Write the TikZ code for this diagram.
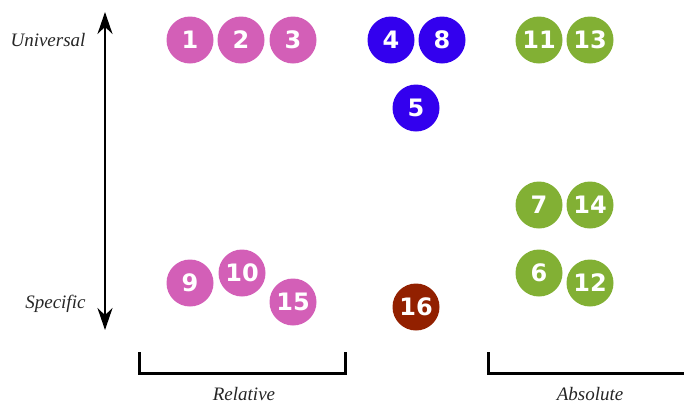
\documentclass[tikz,border=0pt]{standalone}
\usepackage{fontspec}
\newfontfamily\numfont{DejaVu Sans}
\newfontfamily\labfont{Liberation Serif}
\usetikzlibrary{arrows.meta}
\definecolor{cpink}{RGB}{211,95,183}
\definecolor{cblue}{RGB}{51,0,238}
\definecolor{cgreen}{RGB}{130,176,52}
\definecolor{cred}{RGB}{146,32,0}
\tikzset{
  num/.style={circle, minimum size=47pt, inner sep=0pt, text=white, font=\numfont\bfseries\fontsize{24}{26}\selectfont},
  pk/.style={num, fill=cpink},
  bl/.style={num, fill=cblue},
  gr/.style={num, fill=cgreen},
  rd/.style={num, fill=cred},
  lab/.style={font=\labfont\itshape\fontsize{19}{21}\selectfont, text=black!85},
  brk/.style={line width=3pt, line cap=butt},
  axis/.style={line width=2.6pt, {Stealth[length=22pt,width=15pt]}-{Stealth[length=22pt,width=15pt]}}
}
\begin{document}
\begin{tikzpicture}[x=1pt,y=-1pt]
\useasboundingbox (0,0) rectangle (684,405);
% axis
\coordinate (top) at (105,12);
\coordinate (bot) at (105,330);
\draw[axis] (bot) -- (top);
\node[lab, anchor=east] (uni) at (89,40) {Universal};
\node[lab, anchor=east] (spe) at (89,304) {Specific};
% nodes
\node[pk] (n1) at (190,40) {1};
\node[pk] (n2) at (241,40) {2};
\node[pk] (n3) at (293,40) {3};
\node[bl] (n4) at (391,40) {4};
\node[bl] (n8) at (442,40) {8};
\node[bl] (n5) at (416,108) {5};
\node[gr] (n11) at (539,40) {11};
\node[gr] (n13) at (590,40) {13};
\node[gr] (n7) at (539,205) {7};
\node[gr] (n14) at (590,205) {14};
\node[gr] (n6) at (539,273) {6};
\node[gr] (n12) at (590,283) {12};
\node[pk] (n9) at (190,283) {9};
\node[pk] (n10) at (242,273) {10};
\node[pk] (n15) at (293,302) {15};
\node[rd] (n16) at (416,307) {16};
% brackets
\coordinate (r1) at (139,352);
\coordinate (r2) at (139,373);
\coordinate (r3) at (345,373);
\coordinate (r4) at (345,352);
\draw[brk] (r1) -- (r2) -- (r3) -- (r4);
\node[lab] (rel) at (244,394) {Relative};
\coordinate (a1) at (488,352);
\coordinate (a2) at (488,373);
\coordinate (a3) at (684,373);
\draw[brk] (a1) -- (a2) -- (a3);
\node[lab] (abs) at (590,394) {Absolute};
\end{tikzpicture}
\end{document}
